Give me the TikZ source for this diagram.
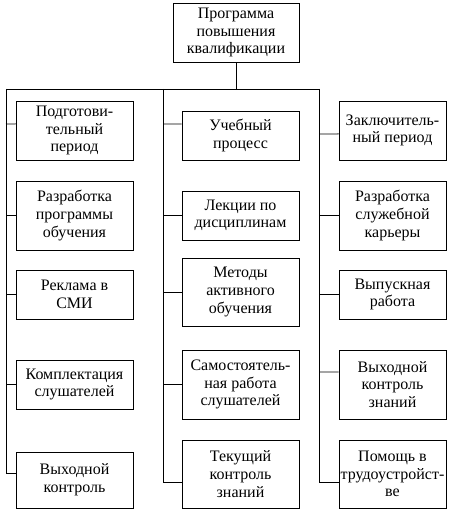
\documentclass[tikz,border=0pt]{standalone}
\usepackage{fontspec}
\setmainfont{Liberation Serif}
\usetikzlibrary{positioning}

\begin{document}
\begin{tikzpicture}[
  x=0.75pt, y=-0.75pt,
  box/.style={draw, line width=0.7pt, inner sep=1pt, align=center,
    font=\fontsize{12}{13.2}\selectfont},
  lnk/.style={line width=0.7pt},
]
\useasboundingbox (0,0) rectangle (460,513);
% top
\node[box, minimum width=126*0.75pt, minimum height=59*0.75pt] (top) at (236,32.5)
  {Программа\\ повышения\\ квалификации};
% left column
\node[box, minimum width=117*0.75pt, minimum height=59*0.75pt] (l1) at (74.5,130.5)
  {Подготови-\\ тельный\\ период};
\node[box, minimum width=117*0.75pt, minimum height=69*0.75pt] (l2) at (74.5,215.5)
  {Разработка\\ программы\\ обучения};
\node[box, minimum width=117*0.75pt, minimum height=49*0.75pt] (l3) at (74.5,294.5)
  {Реклама в\\ СМИ};
\node[box, minimum width=117*0.75pt, minimum height=49*0.75pt] (l4) at (74.5,384.5)
  {Комплектация\\ слушателей};
\node[box, minimum width=117*0.75pt, minimum height=56*0.75pt] (l5) at (74.5,480)
  {Выходной\\ контроль};
% middle column
\node[box, minimum width=117*0.75pt, minimum height=49*0.75pt] (m1) at (240.5,135.5)
  {Учебный\\ процесс};
\node[box, minimum width=117*0.75pt, minimum height=49*0.75pt] (m2) at (240.5,215.5)
  {Лекции по\\ дисциплинам};
\node[box, minimum width=117*0.75pt, minimum height=68*0.75pt] (m3) at (240.5,292)
  {Методы\\ активного\\ обучения};
\node[box, minimum width=117*0.75pt, minimum height=69*0.75pt] (m4) at (240.5,384.5)
  {Самостоятель-\\ ная работа\\ слушателей};
\node[box, minimum width=117*0.75pt, minimum height=68*0.75pt] (m5) at (240.5,474)
  {Текущий\\ контроль\\ знаний};
% right column
\node[box, minimum width=107*0.75pt, minimum height=59*0.75pt] (r1) at (392.5,130.5)
  {Заключитель-\\ ный период};
\node[box, minimum width=107*0.75pt, minimum height=69*0.75pt] (r2) at (392.5,215.5)
  {Разработка\\ служебной\\ карьеры};
\node[box, minimum width=107*0.75pt, minimum height=49*0.75pt] (r3) at (392.5,294.5)
  {Выпускная\\ работа};
\node[box, minimum width=107*0.75pt, minimum height=69*0.75pt] (r4) at (392.5,384.5)
  {Выходной\\ контроль\\ знаний};
\node[box, minimum width=107*0.75pt, minimum height=68*0.75pt] (r5) at (392.5,474)
  {Помощь в\\ трудоустройст-\\ ве};
% bus
\coordinate (ls) at (6,89);
\coordinate (ms) at (163,89);
\coordinate (rs) at (319,89);
\draw[lnk] (top.south) -- (top.south |- ls);
\draw[lnk] (ls) -- (rs);
\draw[lnk] (ls) |- ([yshift=5.2pt]l5.west);
\draw[lnk] (ms) |- ([yshift=-6pt]m5.west);
\draw[lnk] (rs) |- ([yshift=-6pt]r5.west);
\draw[lnk] (ls |- l1.west) ++(0,-6.5) -- ([yshift=4.9pt]l1.west);
\draw[lnk] (ls |- l2.west) -- (l2.west);
\draw[lnk] (ls |- l3.west) -- (l3.west);
\draw[lnk] (ls |- l4.west) -- (l4.west);
\draw[lnk] (ms |- m1.west) ++(0,-11.5) -- ([yshift=8.6pt]m1.west);
\draw[lnk] (ms |- m2.west) -- (m2.west);
\draw[lnk] (ms |- m3.west) -- (m3.west);
\draw[lnk] (ms |- m4.west) -- (m4.west);
\draw[lnk] (rs |- r1.west) ++(0,3.5) -- ([yshift=-2.6pt]r1.west);
\draw[lnk] (rs |- r2.west) -- (r2.west);
\draw[lnk] (rs |- r3.west) -- (r3.west);
\draw[lnk] (rs |- r4.west) ++(0,-12.5) -- ([yshift=9.4pt]r4.west);
\end{tikzpicture}
\end{document}
